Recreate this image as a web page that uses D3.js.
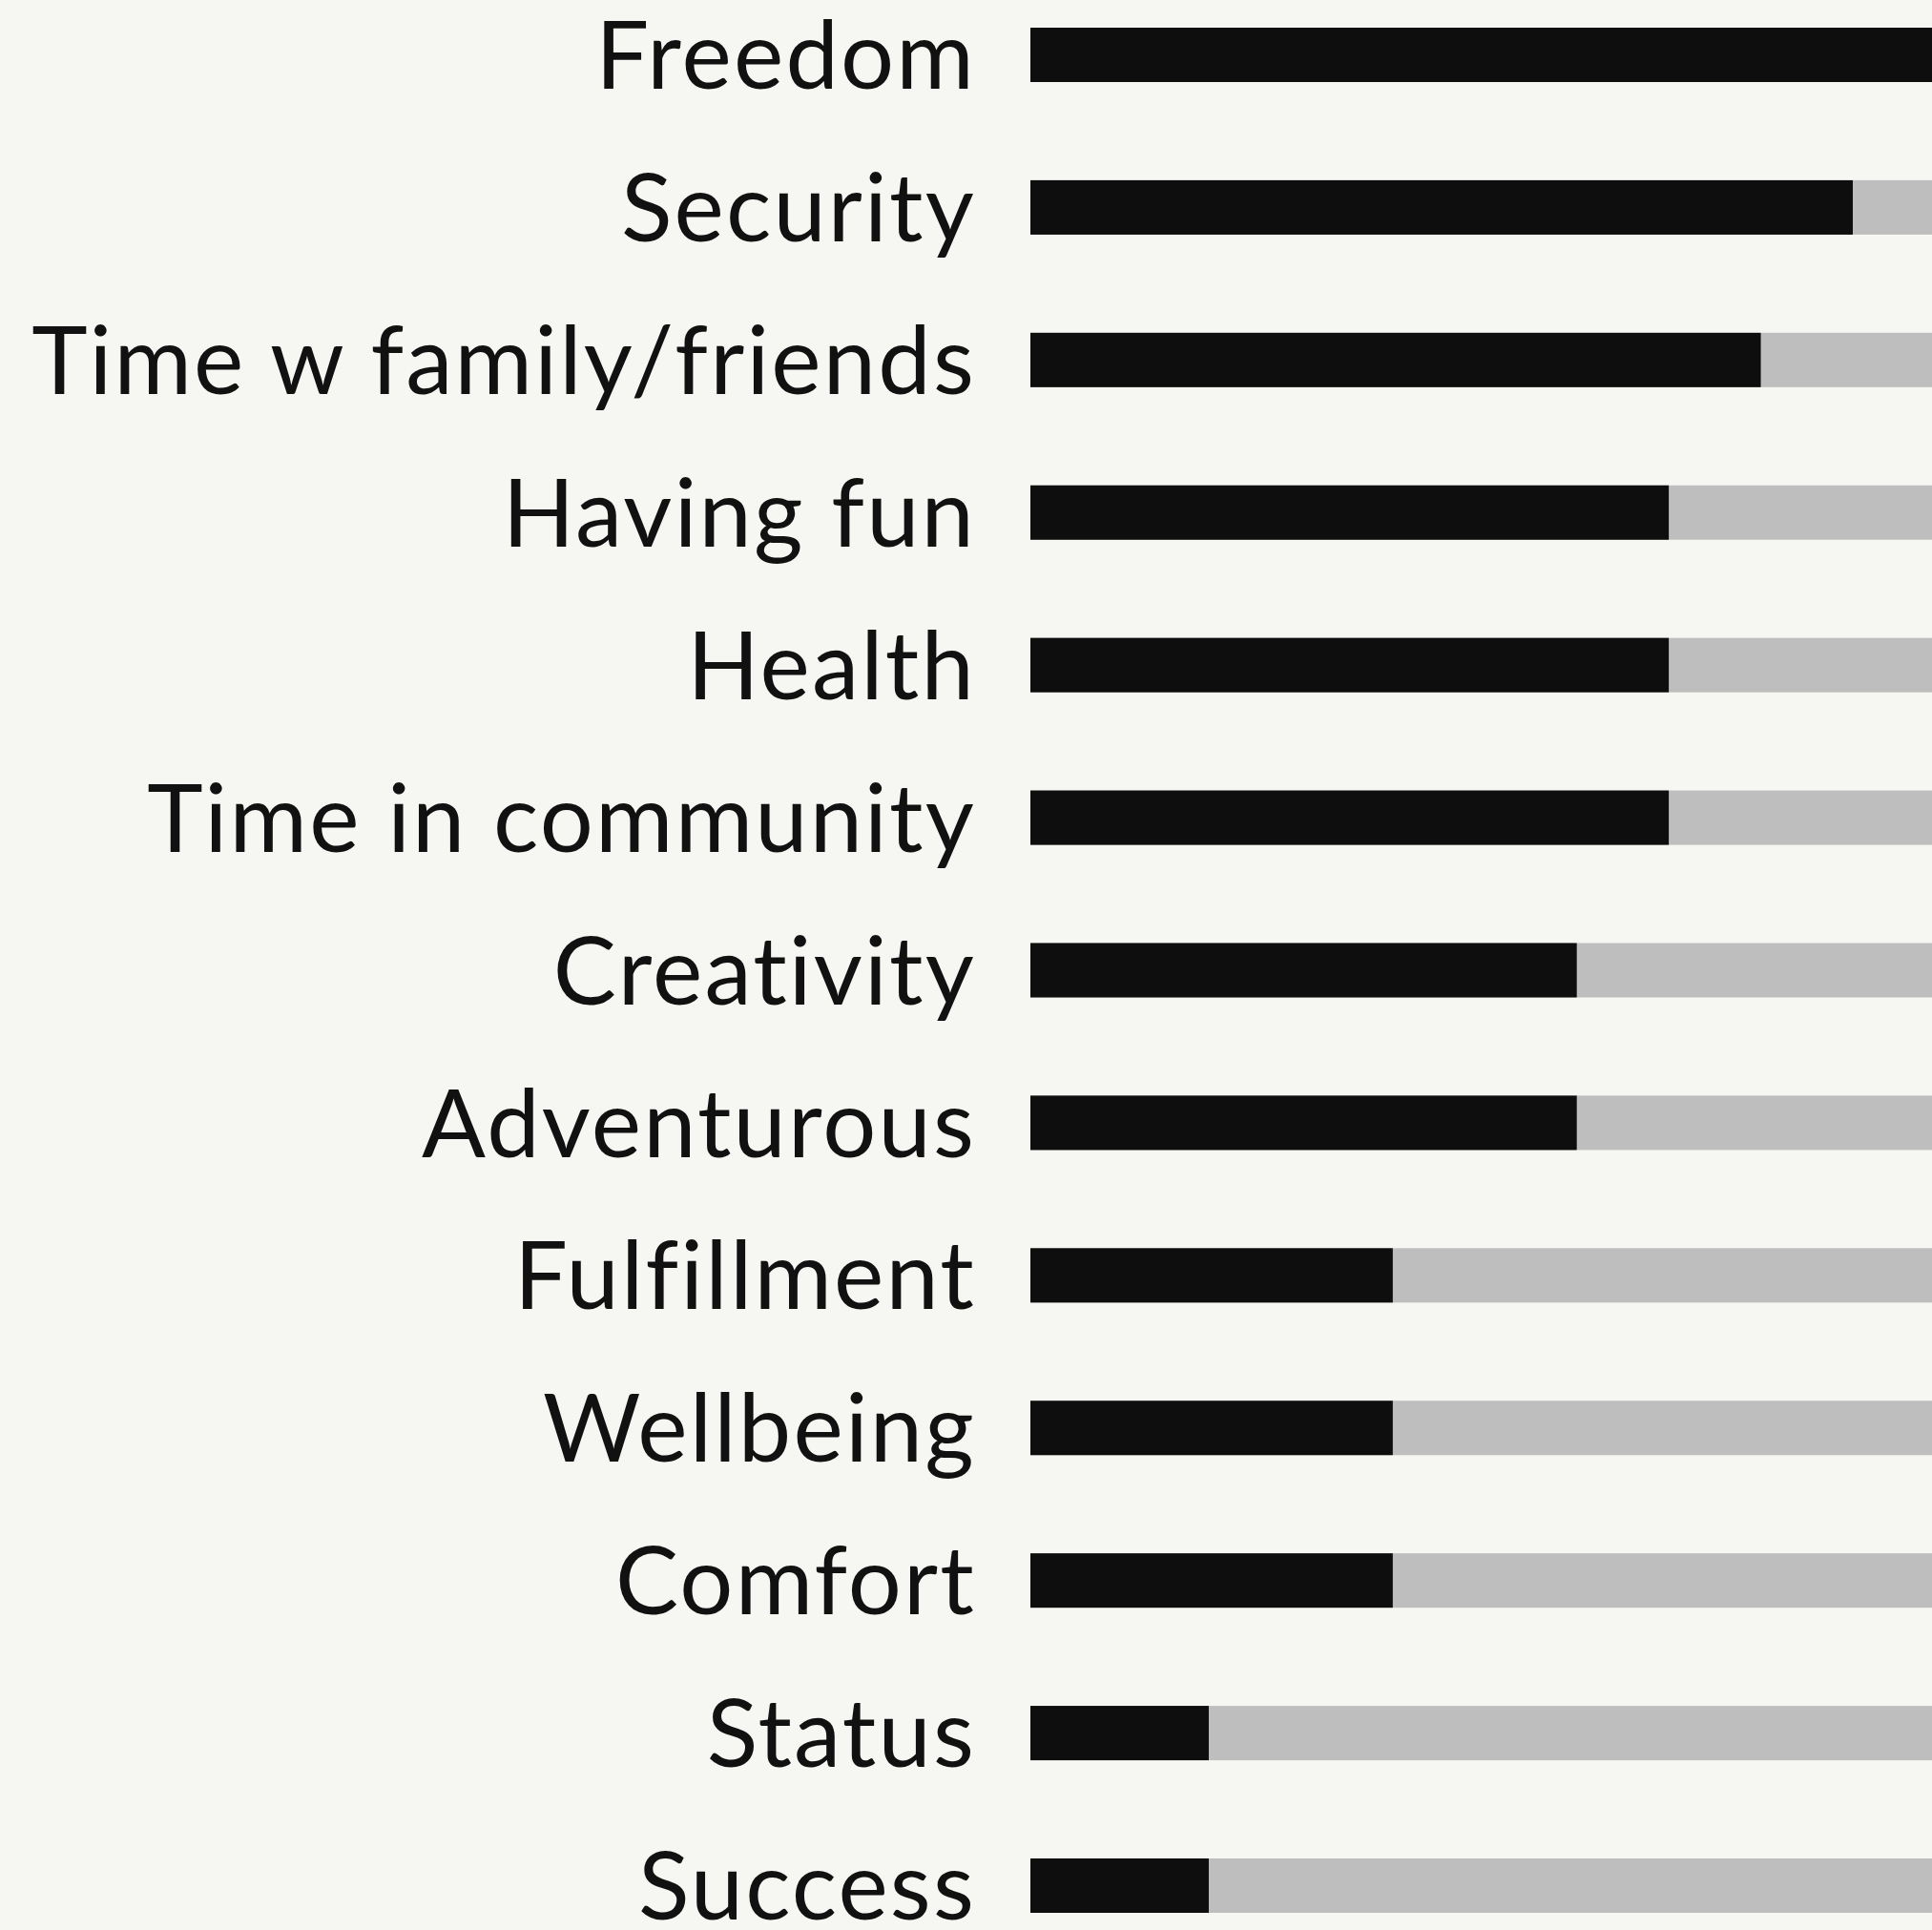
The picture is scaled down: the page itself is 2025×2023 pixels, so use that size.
<!DOCTYPE html>
<html>
<head>
<meta charset="utf-8">
<script src="https://cdn.jsdelivr.net/npm/d3@7"></script>
<style>
  html, body { margin: 0; padding: 0; background: #f6f6f2; overflow: hidden; }
  svg { display: block; }
</style>
</head>
<body>
<script>
const categories = ["Freedom", "Security", "Time w family/friends", "Having fun", "Health",
  "Time in community", "Creativity", "Adventurous", "Fulfillment", "Wellbeing",
  "Comfort", "Status", "Success"];
const values = [10, 9, 8, 7, 7, 7, 6, 6, 4, 4, 4, 2, 2];
const maxValue = 10;

const W = 2025, H = 2023;
const plotLeft = 1080;
const barH = 57;

const svg = d3.select("body").append("svg").attr("width", W).attr("height", H);
svg.append("rect").attr("width", W).attr("height", H).attr("fill", "#f6f6f2");

const x = d3.scaleLinear().domain([0, maxValue]).range([-5.9, 958.4]);
const y = d3.scalePoint().domain(categories).range([57.5, 1976.5]);

const g = svg.append("g").attr("transform", `translate(${plotLeft},0)`);

const rows = g.selectAll("g.row").data(categories.map((c, i) => ({c, v: values[i]})))
  .join("g").attr("class", "row");

rows.append("rect")
  .attr("x", 0).attr("y", d => y(d.c) - barH / 2)
  .attr("width", x(maxValue) + 100).attr("height", barH)
  .attr("fill", "#bebebe");

rows.append("rect")
  .attr("x", 0).attr("y", d => y(d.c) - barH / 2)
  .attr("width", d => x(d.v)).attr("height", barH)
  .attr("fill", "#0e0e0e");

const fontSize = 99;
svg.append("g").selectAll("text").data(categories).join("text")
  .attr("x", plotLeft - 57)
  .attr("y", d => y(d) + 0.36 * fontSize)
  .attr("text-anchor", "end")
  .attr("font-family", "Lato, sans-serif")
  .attr("font-size", fontSize)
  .attr("letter-spacing", 2.2)
  .attr("fill", "#111")
  .text(d => d);
</script>
</body>
</html>
